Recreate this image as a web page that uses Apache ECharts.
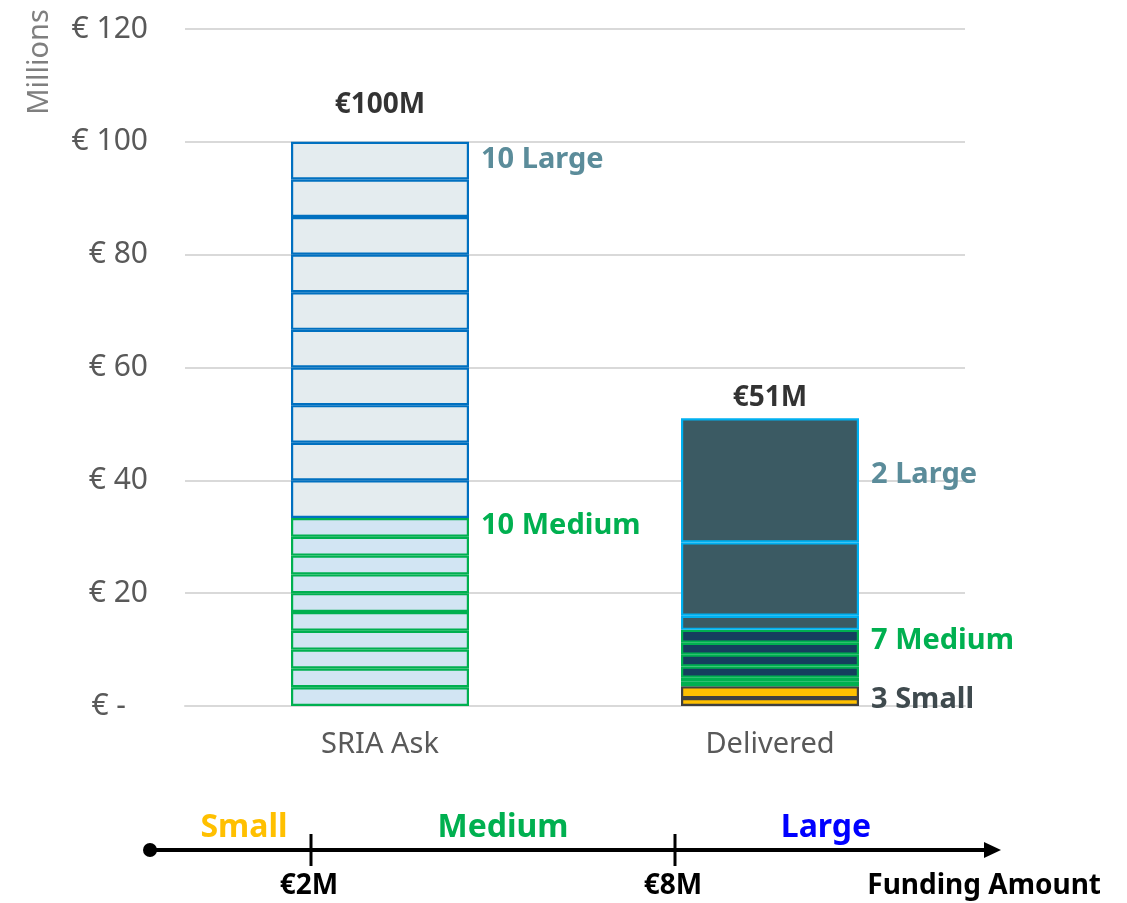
<!DOCTYPE html>
<html>
<head>
<meta charset="utf-8">
<script src="https://cdn.jsdelivr.net/npm/echarts@6/dist/echarts.min.js"></script>
<style>
  html, body { margin: 0; padding: 0; background: #ffffff; }
  #chart { width: 1127px; height: 903px; }
</style>
</head>
<body>
<div id="chart"></div>
<script>
// Funding per project in € millions, listed bottom to top within each bar
const categories = ['SRIA Ask', 'Delivered'];

const sriaMedium = [3.33, 3.33, 3.34, 3.33, 3.33, 3.34, 3.33, 3.33, 3.34, 3.33];
const sriaLarge = [6.67, 6.67, 6.66, 6.67, 6.67, 6.66, 6.67, 6.67, 6.66, 6.67];

const deliveredSmall = [1.4, 2.1];
const deliveredMedium = [0.4, 0.5, 0.6, 2.0, 2.1, 2.1, 2.3];
const deliveredLarge = [2.5, 13.0, 22.0];

// Count notes written beside each bar
const sriaNotes = { Medium: '10 Medium', Large: '10 Large' };
const deliveredNotes = { Small: '3 Small', Medium: '7 Medium', Large: '2 Large' };

// Funding scale shown underneath
const sizeBands = ['Small', 'Medium', 'Large'];
const thresholds = ['€2M', '€8M'];
const scaleTitle = 'Funding Amount';
const axisUnit = 'Millions';

const FONT = '"Noto Sans", "Open Sans", sans-serif';

const palette = [
  { // SRIA Ask
    Medium: { fill: '#D2E5F3', border: '#00B050' },
    Large: { fill: '#E4ECEF', border: '#0070C0' }
  },
  { // Delivered
    Small: { fill: '#FFC000', border: '#404040' },
    Medium: { fill: '#153F5E', border: '#00B050' },
    Large: { fill: '#3B5A63', border: '#00B0F0' }
  }
];
const noteColor = { Small: '#3F4A4E', Medium: '#00B050', Large: '#5B8C9A' };
const noteShift = [
  { Medium: -2, Large: -1 },
  { Small: 8, Medium: 4, Large: -6 }
];

function segmentsOf(groups) {
  const list = [];
  groups.forEach(([band, values]) => {
    values.forEach((v, i) => list.push({ band, value: v, top: i === values.length - 1 }));
  });
  return list;
}

const bars = [
  segmentsOf([['Medium', sriaMedium], ['Large', sriaLarge]]),
  segmentsOf([['Small', deliveredSmall], ['Medium', deliveredMedium], ['Large', deliveredLarge]])
];
const notes = [sriaNotes, deliveredNotes];
const totals = bars.map(segs => segs.reduce((s, d) => s + d.value, 0));

const depth = Math.max(...bars.map(b => b.length));
const series = [];
for (let i = 0; i < depth; i++) {
  series.push({
    type: 'bar',
    stack: 'total',
    barWidth: 178,
    silent: true,
    data: bars.map((segs, b) => {
      const seg = segs[i];
      if (!seg) return '-';
      const st = palette[b][seg.band];
      const item = {
        value: seg.value,
        itemStyle: { color: st.fill, borderColor: st.border, borderWidth: 2.2 }
      };
      if (seg.top && notes[b][seg.band]) {
        item.label = {
          show: true,
          position: 'right',
          distance: 12,
          offset: [0, noteShift[b][seg.band]],
          formatter: notes[b][seg.band],
          color: noteColor[seg.band],
          fontFamily: FONT,
          fontWeight: 'bold',
          fontSize: 29
        };
      }
      return item;
    })
  });
}

// Total amount above each bar
series.push({
  type: 'scatter',
  silent: true,
  symbolSize: 1,
  itemStyle: { color: 'transparent' },
  data: totals.map((t, b) => ({
    value: Math.round(t),
    label: {
      show: true,
      position: 'top',
      distance: b === 0 ? 22 : 6,
      formatter: p => '€' + p.value + 'M',
      color: '#000000',
      fontFamily: FONT,
      fontWeight: 'bold',
      fontSize: 28
    }
  }))
});

// Funding-size scale drawn as a timeline below the chart
const lineY = 850;
const scaleGraphics = [
  { type: 'line', shape: { x1: 150, y1: lineY, x2: 988, y2: lineY }, style: { stroke: '#000', lineWidth: 4 } },
  { type: 'circle', shape: { cx: 150, cy: lineY, r: 7 }, style: { fill: '#000' } },
  { type: 'polygon', shape: { points: [[1001, lineY], [984, lineY - 8], [984, lineY + 8]] }, style: { fill: '#000' } },
  { type: 'line', shape: { x1: 311, y1: 834, x2: 311, y2: 866 }, style: { stroke: '#000', lineWidth: 3 } },
  { type: 'line', shape: { x1: 675, y1: 834, x2: 675, y2: 866 }, style: { stroke: '#000', lineWidth: 3 } }
];
const bandX = [244, 503, 826];
const bandColor = ['#FFC000', '#00B050', '#0000FF'];
sizeBands.forEach((name, i) => {
  scaleGraphics.push({
    type: 'text', x: bandX[i], y: 828,
    style: { text: name, fill: bandColor[i], font: 'bold 32px ' + FONT, align: 'center', verticalAlign: 'middle' }
  });
});
const thresholdX = [309, 673];
thresholds.forEach((t, i) => {
  scaleGraphics.push({
    type: 'text', x: thresholdX[i], y: 886,
    style: { text: t, fill: '#000', font: 'bold 28px ' + FONT, align: 'center', verticalAlign: 'middle' }
  });
});
scaleGraphics.push({
  type: 'text', x: 1101, y: 886,
  style: { text: scaleTitle, fill: '#000', font: 'bold 28px ' + FONT, align: 'right', verticalAlign: 'middle' }
});
scaleGraphics.push({
  type: 'text', x: 40, y: 62, rotation: Math.PI / 2,
  style: { text: axisUnit, fill: '#7F7F7F', font: '29px ' + FONT, align: 'center', verticalAlign: 'middle' }
});

const chart = echarts.init(document.getElementById('chart'), null, { renderer: 'canvas' });
chart.setOption({
  animation: false,
  backgroundColor: '#ffffff',
  grid: { left: 185, right: 162, top: 29, bottom: 197 },
  xAxis: {
    type: 'category',
    data: categories,
    axisLine: { lineStyle: { color: '#D9D9D9', width: 2 } },
    axisTick: { show: false },
    axisLabel: { color: '#595959', fontFamily: FONT, fontSize: 29, margin: 24 }
  },
  yAxis: {
    type: 'value',
    min: 0,
    max: 120,
    interval: 20,
    axisLine: { show: false },
    axisTick: { show: false },
    splitLine: { lineStyle: { color: '#D9D9D9', width: 2 } },
    axisLabel: {
      color: '#595959',
      fontFamily: FONT,
      fontSize: 30,
      margin: 37,
      formatter: v => v === 0 ? '{z|€ -}' : '€ ' + v,
      rich: { z: { fontFamily: FONT, fontSize: 30, color: '#595959', padding: [0, 22, 0, 0] } }
    }
  },
  series: series,
  graphic: scaleGraphics
});
</script>
</body>
</html>
